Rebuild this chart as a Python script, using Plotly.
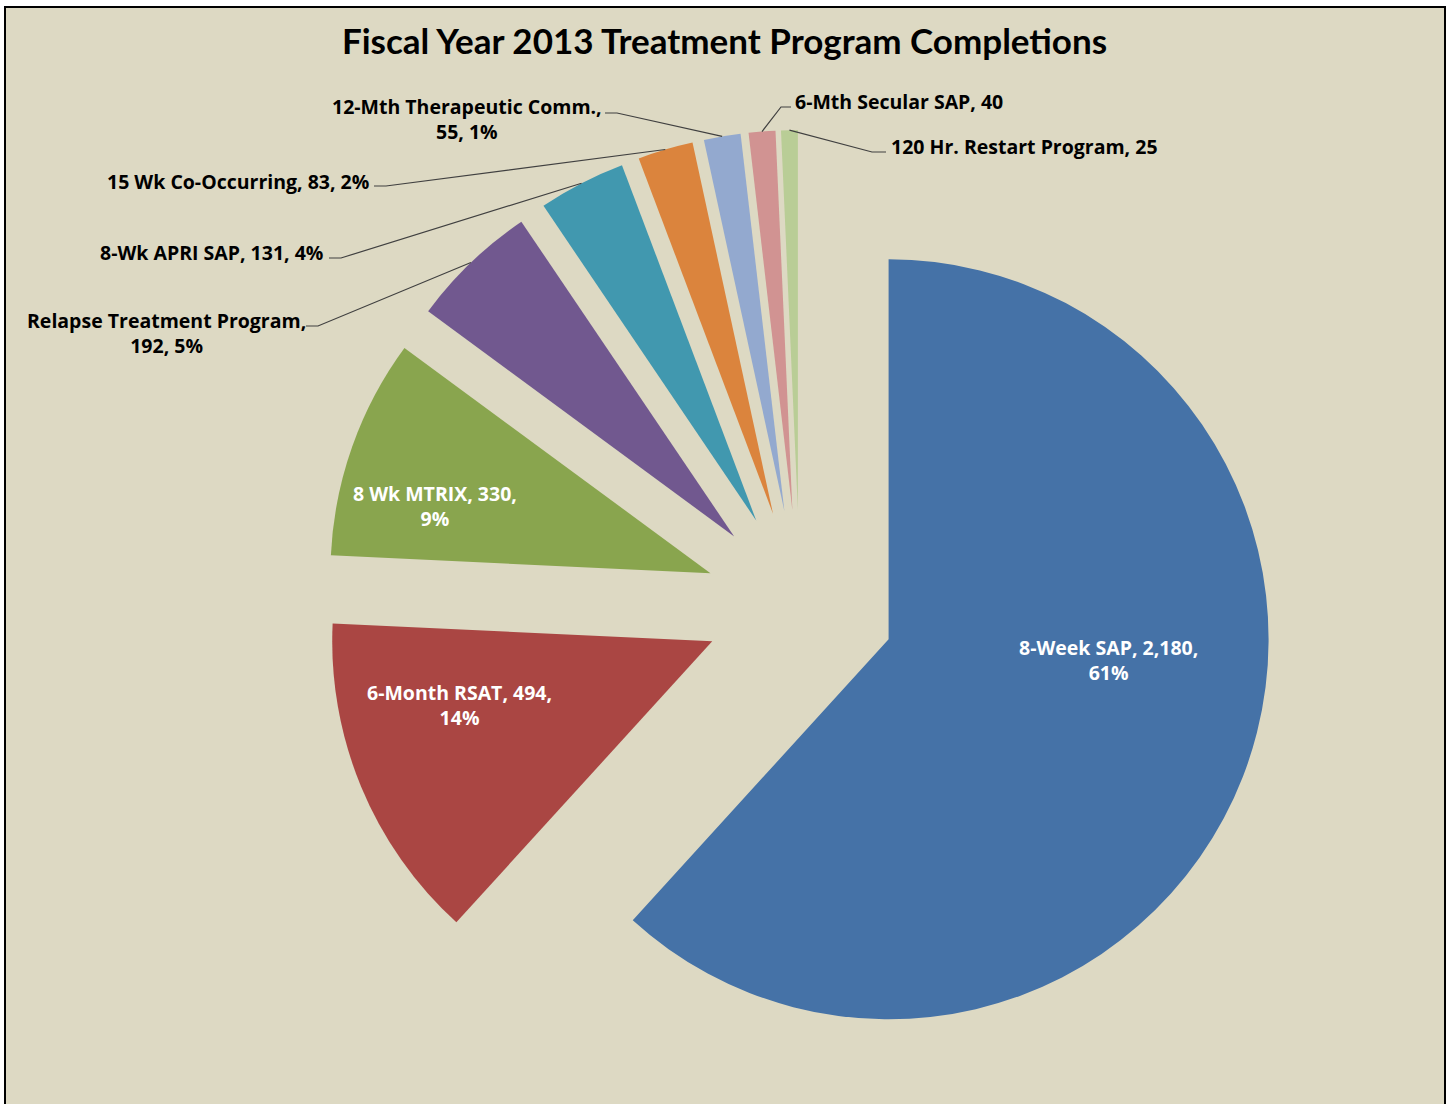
import math
import plotly.graph_objects as go

# ---- data -------------------------------------------------------------
programs = [
    "8-Week SAP", "6-Month RSAT", "8 Wk MTRIX", "Relapse Treatment Program",
    "8-Wk APRI SAP", "15 Wk Co-Occurring", "12-Mth Therapeutic Comm.",
    "6-Mth Secular SAP", "120 Hr. Restart Program",
]
completions = [2180, 494, 330, 192, 131, 83, 55, 40, 25]
percent_labels = ["61%", "14%", "9%", "5%", "4%", "2%", "1%", "", ""]

colors = ["#4572A7", "#AA4643", "#89A54E", "#71588F", "#4198AF",
          "#DB843D", "#93A9CF", "#D19392", "#B9CD96"]

# ---- layout constants -------------------------------------------------
W, H = 1449, 1104
BG = "#DDD9C3"
PULL = 0.25
CX, CY, R = 800, 605, 380          # pie centre / radius in pixels
HALF = R * (1 + PULL)               # half side of the pie's domain box
LABEL_FONT = "Open Sans"
LABEL_SIZE = 19.5


def paper(x, y):
    return x / W, 1 - y / H


# label placement: (x, y, xanchor, where to break the line, inside?)
label_pos = [
    (1108, 660, "center", "value", True),
    (459, 705, "center", "value", True),
    (435, 506, "center", "value", True),
    (166, 333, "center", "name", False),
    (325, 252, "right", None, False),
    (371, 182, "right", None, False),
    (467, 119, "center", "name", False),
    (793, 101, "left", None, False),
    (889, 147, "left", None, False),
]
# leader line start and elbow (pixels) for outside labels
leader_start = {
    3: ((306, 326), (318, 326)),
    4: ((329, 258), (341, 258)),
    5: ((374, 186), (386, 186)),
    6: ((605, 113), (617, 113)),
    7: ((791, 107), (781, 107)),
    8: ((886, 152), (872, 152)),
}


def label_text(i):
    name, val, pct = programs[i], f"{completions[i]:,}", percent_labels[i]
    brk = label_pos[i][3]
    if brk == "value":
        return f"{name}, {val},<br>{pct}"
    if brk == "name":
        return f"{name},<br>{val}, {pct}"
    return f"{name}, {val}" + (f", {pct}" if pct else "")


fig = go.Figure()

x0, y1 = paper(CX - HALF, CY - HALF)
x1, y0 = paper(CX + HALF, CY + HALF)
fig.add_trace(go.Pie(
    labels=programs,
    values=completions,
    marker=dict(colors=colors, line=dict(width=0)),
    pull=[PULL] * len(completions),
    sort=False,
    direction="clockwise",
    rotation=0,
    textinfo="none",
    hovertemplate="%{label}: %{value:,}<extra></extra>",
    showlegend=False,
    domain=dict(x=[x0, x1], y=[y0, y1]),
))

# outer-arc midpoints of each slice, used as leader tips
total = sum(completions)
tips = []
cum = 0
for v in completions:
    mid = (cum + v / 2) / total
    cum += v
    theta = math.radians(90 - 360 * mid)
    rr = R * (1 + PULL)
    tips.append((CX + rr * math.cos(theta), CY - rr * math.sin(theta)))

annotations = []
for i, (lx, ly, anchor, _, inside) in enumerate(label_pos):
    ax, ay = paper(lx, ly)
    annotations.append(dict(
        x=ax, y=ay, xref="paper", yref="paper",
        xanchor=anchor, yanchor="middle", align="center",
        text=label_text(i), showarrow=False,
        font=dict(family=LABEL_FONT, size=LABEL_SIZE, weight="bold",
                  color="white" if inside else "black"),
    ))

shapes = [dict(
    type="rect", xref="paper", yref="paper",
    x0=5 / W, x1=1445 / W, y0=-0.01, y1=1 - 7 / H,
    fillcolor=BG, line=dict(color="black", width=2), layer="below",
)]
for i, (start, elbow) in leader_start.items():
    pts = [paper(*start), paper(*elbow), paper(*tips[i])]
    path = "M " + " L ".join(f"{px:.5f},{py:.5f}" for px, py in pts)
    shapes.append(dict(type="path", xref="paper", yref="paper", path=path,
                       line=dict(color="#404040", width=1.2)))

fig.update_layout(
    width=W, height=H,
    margin=dict(l=0, r=0, t=0, b=0),
    paper_bgcolor="white",
    plot_bgcolor=BG,
    title=dict(
        text="Fiscal Year 2013 Treatment Program Completions",
        x=0.5, xanchor="center", y=1 - 42 / H, yanchor="middle",
        font=dict(family="Lato", size=35, weight="bold", color="black"),
    ),
    annotations=annotations,
    shapes=shapes,
)

fig.write_html("out.html")
